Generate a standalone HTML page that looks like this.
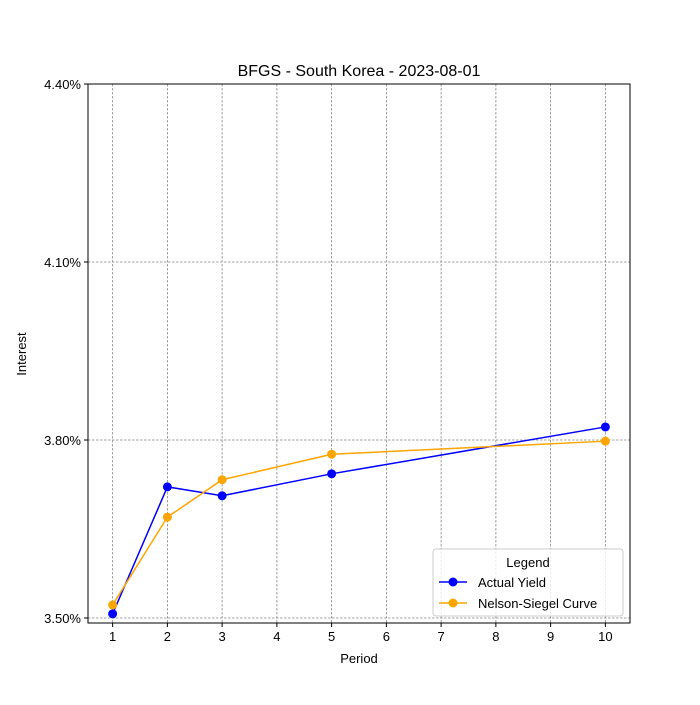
<!DOCTYPE html>
<html><head><meta charset="utf-8"><style>
body{margin:0;background:#fff;}
svg text{font-family:"Liberation Sans","DejaVu Sans",sans-serif;fill:#000;}
</style></head><body>
<svg id="chart" width="700" height="700" xmlns="http://www.w3.org/2000/svg"></svg>
<script>
const periods=[1,2,3,5,10];
const actualYield=[3.507,3.721,3.706,3.743,3.822];
const nelsonSiegel=[3.522,3.670,3.733,3.776,3.798];
const xTicks=[1,2,3,4,5,6,7,8,9,10];
const yTicks=[3.5,3.8,4.1,4.4];
const yTickLabels=["3.50%","3.80%","4.10%","4.40%"];

const L=88,R=630,T=84,B=623;
const xmin=0.55,xmax=10.45,ymax=4.4,ymin=3.5-5*0.3/178;
const sx=v=>L+(v-xmin)/(xmax-xmin)*(R-L);
const sy=v=>T+(ymax-v)/(ymax-ymin)*(B-T);
const svg=document.getElementById('chart');
const NS='http://www.w3.org/2000/svg';
function mk(tag,attrs,parent){const e=document.createElementNS(NS,tag);for(const k in attrs)e.setAttribute(k,attrs[k]);(parent||svg).appendChild(e);return e;}

// grid
xTicks.forEach(t=>{const e=mk('line',{x1:sx(t),x2:sx(t),y1:T,y2:B,stroke:'#888','stroke-width':0.8,'stroke-dasharray':'2.5,1.5'});

});
yTicks.forEach(t=>{const e=mk('line',{x1:L,x2:R,y1:sy(t),y2:sy(t),stroke:'#888','stroke-width':0.8,'stroke-dasharray':'2.5,1.5'});

});

// ticks and labels
xTicks.forEach(t=>{mk('line',{x1:sx(t),x2:sx(t),y1:B,y2:B+4,stroke:'#000'});
const tx=mk('text',{x:sx(t),y:B+18,'font-size':13,'text-anchor':'middle'});tx.textContent=t;

});
yTicks.forEach((t,i)=>{mk('line',{x1:L-4,x2:L,y1:sy(t),y2:sy(t),stroke:'#000'});
const tx=mk('text',{x:L-7,y:sy(t)+5,'font-size':13,'text-anchor':'end'});tx.textContent=yTickLabels[i];

});

// series
function series(vals,color,name){
  const g=mk('g',{});
  
  
  mk('polyline',{points:periods.map((p,i)=>sx(p)+','+sy(vals[i])).join(' '),fill:'none',stroke:color,'stroke-width':1.5},g);
  periods.forEach((p,i)=>{const c=mk('circle',{cx:sx(p),cy:sy(vals[i]),r:4.5,fill:color},g);
  
  });
}
series(actualYield,'#0000ff','actual-yield-series');
series(nelsonSiegel,'#ffa500','nelson-siegel-series');

// frame
mk('rect',{x:L,y:T,width:R-L,height:B-T,fill:'none',stroke:'#000','stroke-width':1});
</script>
<svg width="700" height="700" style="position:absolute;left:0;top:0" xmlns="http://www.w3.org/2000/svg">
<text x="359" y="76" font-size="16" text-anchor="middle">BFGS - South Korea - 2023-08-01</text>
<text x="359" y="663" font-size="13" text-anchor="middle">Period</text>
<text x="26" y="354" font-size="13" text-anchor="middle" transform="rotate(-90 26 354)">Interest</text>
<g>
<rect x="433" y="549" width="190" height="67" rx="3" fill="#fff" fill-opacity="0.8" stroke="#ccc"/>
<text x="528" y="567" font-size="13" text-anchor="middle">Legend</text>
<g>
<line x1="439" x2="467" y1="582" y2="582" stroke="#0000ff" stroke-width="1.5"/><circle cx="453" cy="582" r="4.5" fill="#0000ff"/>
<text x="478" y="587" font-size="13">Actual Yield</text></g>
<g>
<line x1="439" x2="467" y1="603" y2="603" stroke="#ffa500" stroke-width="1.5"/><circle cx="453" cy="603" r="4.5" fill="#ffa500"/>
<text x="478" y="608" font-size="13">Nelson-Siegel Curve</text></g>
</g>
</svg>
</body></html>
